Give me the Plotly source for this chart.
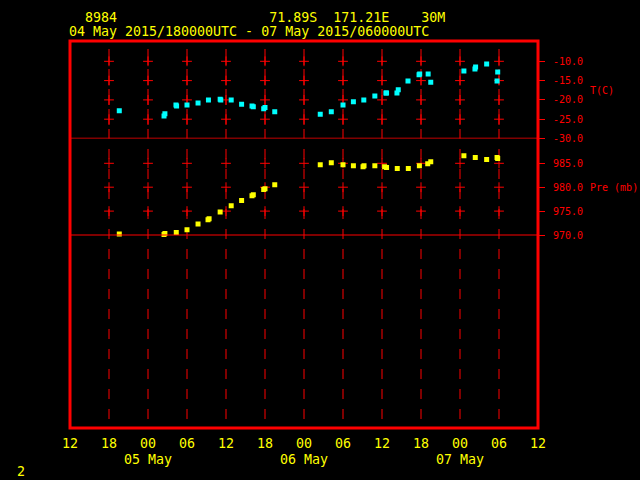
import plotly.graph_objects as go
import pandas as pd

# ---------------- data ----------------
t_times = ["2015-05-04 19:35", "2015-05-05 02:28", "2015-05-05 02:36", "2015-05-05 04:18", "2015-05-05 04:24",
           "2015-05-05 06:00", "2015-05-05 07:42", "2015-05-05 09:18", "2015-05-05 11:06", "2015-05-05 11:12",
           "2015-05-05 12:48", "2015-05-05 14:24", "2015-05-05 16:00", "2015-05-05 16:12", "2015-05-05 17:48",
           "2015-05-05 18:00", "2015-05-05 19:30", "2015-05-06 02:30", "2015-05-06 04:12", "2015-05-06 06:00",
           "2015-05-06 07:36", "2015-05-06 09:12", "2015-05-06 10:54", "2015-05-06 12:36", "2015-05-06 12:42",
           "2015-05-06 14:18", "2015-05-06 14:30", "2015-05-06 16:00", "2015-05-06 17:42", "2015-05-06 17:48",
           "2015-05-06 19:06", "2015-05-06 19:30", "2015-05-07 00:36", "2015-05-07 02:18", "2015-05-07 02:24",
           "2015-05-07 04:06", "2015-05-07 05:42", "2015-05-07 05:48"]
t_values = [-22.8, -24.2, -23.6, -21.3, -21.6,
            -21.3, -20.8, -20.0, -19.8, -20.0,
            -20.0, -21.1, -21.6, -21.8, -22.3,
            -22.0, -23.1, -23.7, -23.1, -21.3,
            -20.5, -20.0, -19.0, -18.2, -18.2,
            -18.2, -17.4, -15.1, -13.5, -13.3,
            -13.3, -15.4, -12.5, -12.0, -11.5,
            -10.7, -15.1, -12.8]

p_times = ["2015-05-04 19:35", "2015-05-05 02:28", "2015-05-05 02:36", "2015-05-05 04:21", "2015-05-05 06:00",
           "2015-05-05 07:42", "2015-05-05 09:14", "2015-05-05 09:24", "2015-05-05 11:06", "2015-05-05 12:48",
           "2015-05-05 14:24", "2015-05-05 16:00", "2015-05-05 16:12", "2015-05-05 17:48", "2015-05-05 18:00",
           "2015-05-05 19:30", "2015-05-06 02:30", "2015-05-06 04:12", "2015-05-06 06:00", "2015-05-06 07:36",
           "2015-05-06 09:05", "2015-05-06 09:14", "2015-05-06 10:54", "2015-05-06 12:24", "2015-05-06 12:42",
           "2015-05-06 14:21", "2015-05-06 16:03", "2015-05-06 17:45", "2015-05-06 19:02", "2015-05-06 19:30",
           "2015-05-07 00:36", "2015-05-07 02:21", "2015-05-07 04:06", "2015-05-07 05:42", "2015-05-07 05:48"]
p_values = [970.2, 970.1, 970.3, 970.5, 971.1,
            972.3, 973.2, 973.4, 974.8, 976.1,
            977.2, 978.2, 978.4, 979.5, 979.7,
            980.5, 984.7, 985.1, 984.7, 984.5,
            984.3, 984.5, 984.5, 984.3, 984.1,
            983.9, 983.9, 984.5, 984.9, 985.3,
            986.6, 986.2, 985.8, 986.2, 986.0]

x_tick_vals = ["2015-05-04 12:00", "2015-05-04 18:00", "2015-05-05 00:00", "2015-05-05 06:00",
               "2015-05-05 12:00", "2015-05-05 18:00", "2015-05-06 00:00", "2015-05-06 06:00",
               "2015-05-06 12:00", "2015-05-06 18:00", "2015-05-07 00:00", "2015-05-07 06:00",
               "2015-05-07 12:00"]
x_tick_text = ["12", "18", "00", "06", "12", "18", "00", "06", "12", "18", "00", "06", "12"]
day_vals = ["2015-05-05 00:00", "2015-05-06 00:00", "2015-05-07 00:00"]
day_text = ["05 May", "06 May", "07 May"]

t_tick_vals = [-30, -25, -20, -15, -10]
t_tick_text = ["-30.0", "-25.0", "-20.0", "-15.0", "-10.0"]
p_tick_vals = [970, 975, 980, 985]
p_tick_text = ["970.0", "975.0", "980.0", "985.0"]

header1 = "  8984                   71.89S  171.21E    30M"
header2 = "04 May 2015/180000UTC - 07 May 2015/060000UTC"

# ---------------- layout helpers ----------------
W, H = 640, 480
L, R, T, B = 70, 102, 41, 52
PW, PH = W - L - R, H - T - B


def px_x(p):
    return (p - L) / PW


def px_y(p):
    return (H - B - p) / PH


RED = "#ff0000"
YEL = "#ffff00"
CYAN = "#00ffff"
MONO = "DejaVu Sans Mono"

split = px_y(138.5)
grid_x = x_tick_vals[1:-1]

fig = go.Figure()

# crosses on the grid
cx_t = [gx for gx in grid_x for _ in t_tick_vals[1:]]
cy_t = [v for _ in grid_x for v in t_tick_vals[1:]]
cx_p = [gx for gx in grid_x for _ in p_tick_vals[1:]]
cy_p = [v for _ in grid_x for v in p_tick_vals[1:]]
fig.add_trace(go.Scatter(x=cx_t, y=cy_t, mode="markers", yaxis="y", hoverinfo="skip",
                         marker=dict(symbol="cross-thin", size=7, line=dict(color=RED, width=1))))
fig.add_trace(go.Scatter(x=cx_p, y=cy_p, mode="markers", yaxis="y2", hoverinfo="skip",
                         marker=dict(symbol="cross-thin", size=7, line=dict(color=RED, width=1))))

fig.add_trace(go.Scatter(x=pd.to_datetime(t_times), y=t_values, mode="markers", yaxis="y",
                         marker=dict(symbol="square", size=5, color=CYAN, line=dict(width=0))))
fig.add_trace(go.Scatter(x=pd.to_datetime(p_times), y=p_values, mode="markers", yaxis="y2",
                         marker=dict(symbol="square", size=5, color=YEL, line=dict(width=0))))

shapes = []
for gx in grid_x:
    shapes.append(dict(type="line", xref="x", yref="paper", x0=gx, x1=gx, y0=px_y(49), y1=split,
                       line=dict(color=RED, width=1, dash="16px,4px"), layer="below"))
    shapes.append(dict(type="line", xref="x", yref="paper", x0=gx, x1=gx, y0=px_y(149), y1=0,
                       line=dict(color=RED, width=1, dash="10px,10px"), layer="below"))
shapes.append(dict(type="line", xref="paper", yref="y", x0=0, x1=1, y0=t_tick_vals[0], y1=t_tick_vals[0],
                   line=dict(color=RED, width=1.5)))
shapes.append(dict(type="line", xref="paper", yref="y2", x0=0, x1=1, y0=p_tick_vals[0], y1=p_tick_vals[0],
                   line=dict(color=RED, width=1)))
shapes.append(dict(type="rect", xref="paper", yref="paper", x0=0, x1=1, y0=0, y1=1,
                   line=dict(color=RED, width=3)))

annotations = [
    dict(text=header1.replace(" ", "\u00a0"), xref="paper", yref="paper", x=px_x(67), y=px_y(18),
         xanchor="left", yanchor="middle", showarrow=False, font=dict(family=MONO, size=13.3, color=YEL)),
    dict(text=header2.replace(" ", "\u00a0"), xref="paper", yref="paper", x=px_x(67), y=px_y(32),
         xanchor="left", yanchor="middle", showarrow=False, font=dict(family=MONO, size=13.3, color=YEL)),
    dict(text="T(C)", xref="paper", yref="y", x=px_x(588), y=-17.5, xanchor="left", yanchor="middle",
         showarrow=False, font=dict(family=MONO, size=10, color=RED)),
    dict(text="Pre\u00a0(mb)", xref="paper", yref="y2", x=px_x(588), y=980, xanchor="left", yanchor="middle",
         showarrow=False, font=dict(family=MONO, size=10, color=RED)),
    dict(text="2", xref="paper", yref="paper", x=px_x(15), y=px_y(472), xanchor="left", yanchor="middle",
         showarrow=False, font=dict(family=MONO, size=13.3, color=YEL)),
]
for dv, dt in zip(day_vals, day_text):
    annotations.append(dict(text=dt.replace(" ", "\u00a0"), xref="x", yref="paper", x=dv, y=px_y(459),
                            xanchor="center", yanchor="middle", showarrow=False,
                            font=dict(family=MONO, size=13.3, color=YEL)))

fig.update_layout(
    width=W, height=H, margin=dict(l=L, r=R, t=T, b=B, pad=0),
    paper_bgcolor="black", plot_bgcolor="black", showlegend=False,
    shapes=shapes, annotations=annotations,
    xaxis=dict(type="date", range=[x_tick_vals[0], x_tick_vals[-1]], anchor="y2",
               tickmode="array", tickvals=x_tick_vals, ticktext=x_tick_text,
               showgrid=False, zeroline=False, showline=False, ticks="",
               ticklabelstandoff=6,
               tickfont=dict(family=MONO, size=13.3, color=YEL)),
    yaxis=dict(domain=[split, 1], range=[-30, -4.74], side="right", anchor="x",
               tickmode="array", tickvals=t_tick_vals, ticktext=t_tick_text,
               showgrid=False, zeroline=False, showline=False,
               ticks="outside", ticklen=6, tickwidth=1, tickcolor=RED, ticklabelstandoff=6,
               tickfont=dict(family=MONO, size=10, color=RED)),
    yaxis2=dict(domain=[0, split], range=[929.62, 990.19], side="right", anchor="x",
                tickmode="array", tickvals=p_tick_vals, ticktext=p_tick_text,
                showgrid=False, zeroline=False, showline=False,
                ticks="outside", ticklen=6, tickwidth=1, tickcolor=RED, ticklabelstandoff=6,
                tickfont=dict(family=MONO, size=10, color=RED)),
)

fig.write_html("out.html", config={"displayModeBar": False},
               post_script="document.body.style.margin='0';")
